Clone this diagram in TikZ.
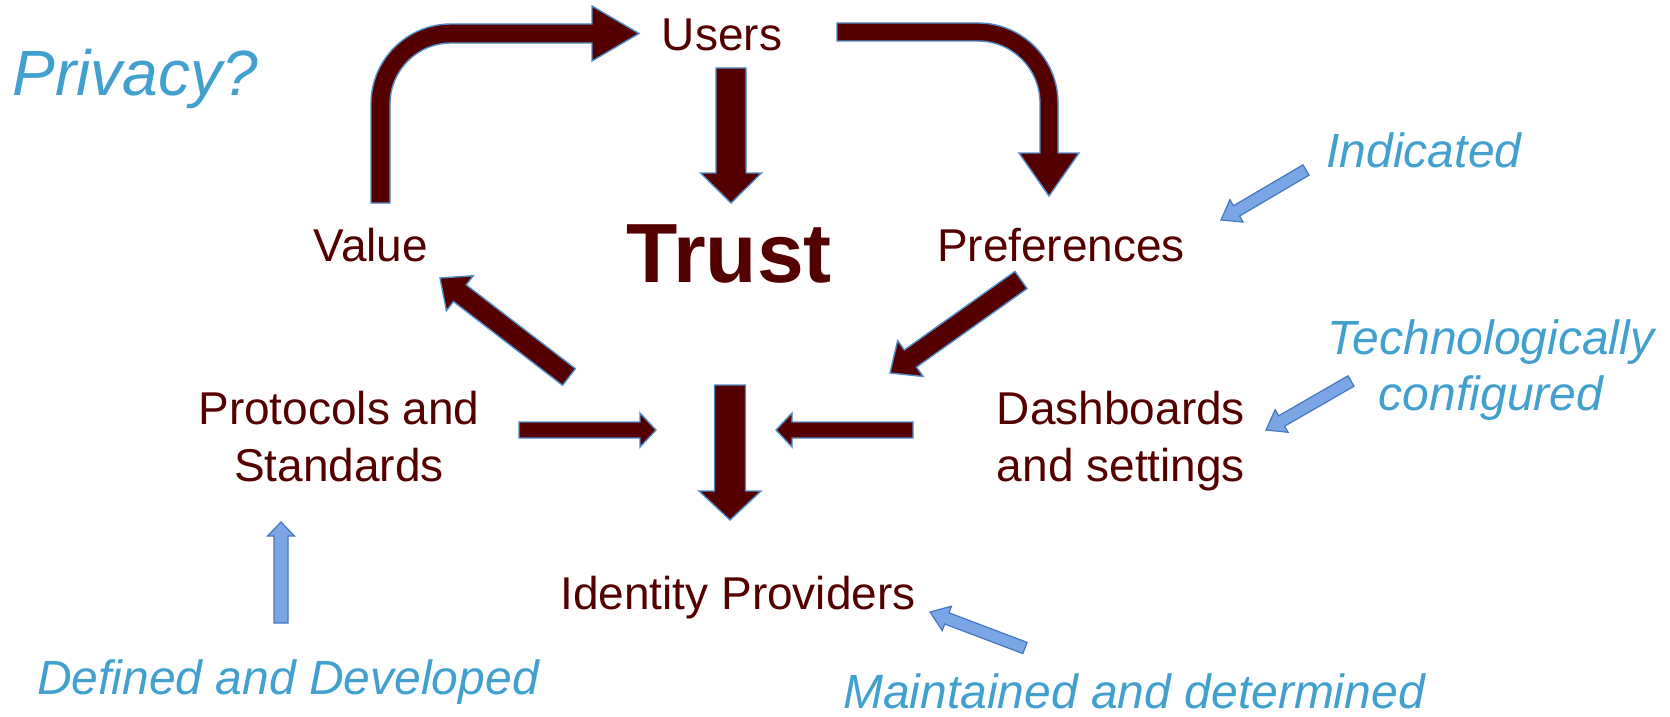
\documentclass[tikz,border=0pt]{standalone}
\usepackage{fontspec}
\setmainfont{Liberation Sans}
\usepackage{xcolor}
\usepackage{tikz}
\usetikzlibrary{calc}

\definecolor{darkred}{RGB}{85,0,0}
\definecolor{rimblue}{RGB}{79,140,200}
\definecolor{noteblue}{RGB}{66,160,206}
\definecolor{paleblue}{RGB}{122,166,230}
\definecolor{edgeblue}{RGB}{70,118,190}

\tikzstyle{term}=[inner sep=0pt,anchor=base,text=darkred,font=\fontsize{23pt}{28.5pt}\selectfont]
\tikzstyle{remark}=[inner sep=0pt,anchor=base,text=noteblue,font=\fontsize{24pt}{28pt}\selectfont\itshape]
\tikzstyle{heavy}=[fill=darkred,draw=rimblue,line width=0.7pt]
\tikzstyle{light}=[fill=paleblue,draw=edgeblue,line width=0.6pt]

\newcommand{\blockarrow}[6]{%
  \path ($(#3)!#6!(#2)$) coordinate (hb);
  \draw[#1] ($(#2)!#4!-90:(#3)$) -- ($(hb)!#4!90:(#2)$) -- ($(hb)!#5!90:(#2)$) -- (#3)
    -- ($(hb)!#5!-90:(#2)$) -- ($(hb)!#4!-90:(#2)$) -- ($(#2)!#4!90:(#3)$) -- cycle;
}

\begin{document}
\begin{tikzpicture}[x=0.5pt,y=-0.5pt]
	\useasboundingbox (0,0) rectangle (1670,717);
	\node[remark,anchor=base west,font=\fontsize{32pt}{36pt}\selectfont\itshape] (privacy) at (12,96) {Privacy?};
	\node[term] (users) at (722,51) {Users};
	\node[term,font=\fontsize{42pt}{48pt}\selectfont\bfseries] (trust) at (729,282) {Trust};
	\node[term] (value) at (371,261) {Value};
	\node[term] (prefs) at (1061,261) {Preferences};
	\node[term,align=center] (protocols) at (339,481) {Protocols and\\Standards};
	\node[term,align=center] (dash) at (1121,481) {Dashboards\\and settings};
	\node[term] (idp) at (738,609) {Identity Providers};
	\node[remark] (indicated) at (1424,168) {Indicated};
	\node[remark,align=center] (techno) at (1491,410) {Technologically\\configured};
	\node[remark] (defined) at (288,694) {Defined and Developed};
	\node[remark] (maintained) at (1134,708) {Maintained and determined};

	\coordinate (ua) at (731,68);   \coordinate (ub) at (731,203);
	\coordinate (da) at (730,385);  \coordinate (db) at (730,520);
	\coordinate (pa) at (569,377);  \coordinate (pb) at (440,278);
	\coordinate (qa) at (1021,280); \coordinate (qb) at (890,373);
	\coordinate (ra) at (519,430);  \coordinate (rb) at (656,430);
	\coordinate (sa) at (913,430);  \coordinate (sb) at (776,430);
	\coordinate (ia) at (1306,170); \coordinate (ib) at (1221,220);
	\coordinate (ka) at (1351,381); \coordinate (kb) at (1266,430);
	\coordinate (fa) at (281,623);  \coordinate (fb) at (281,522);
	\coordinate (ma) at (1025,648); \coordinate (mb) at (930,612);

	\draw[heavy] (390,203) -- (390,104) .. controls (390,70.3) and (417.3,43) .. (451,43)
		-- (592,43) -- (592,61) -- (639,33.5) -- (592,6) -- (592,24) -- (451,24)
		.. controls (406.8,24) and (371,59.8) .. (371,104) -- (371,203) -- cycle;
	\draw[heavy] (837,23) -- (978,23) .. controls (1022.2,23) and (1058,58.8) .. (1058,103)
		-- (1058,153) -- (1079,153) -- (1049,196) -- (1019,153) -- (1040,153) -- (1040,103)
		.. controls (1040,68.8) and (1012.2,41) .. (978,41) -- (837,41) -- cycle;

	\blockarrow{heavy}{ua}{ub}{7.5pt}{15.25pt}{15pt}
	\blockarrow{heavy}{da}{db}{7.75pt}{15.5pt}{14.5pt}
	\blockarrow{heavy}{pa}{pb}{5.25pt}{11pt}{12.5pt}
	\blockarrow{heavy}{qa}{qb}{5.25pt}{11pt}{12.5pt}
	\blockarrow{heavy}{ra}{rb}{4pt}{8.5pt}{8pt}
	\blockarrow{heavy}{sa}{sb}{4pt}{8.5pt}{8pt}

	\blockarrow{light}{ia}{ib}{3pt}{6.5pt}{9pt}
	\blockarrow{light}{ka}{kb}{3pt}{6.5pt}{9pt}
	\blockarrow{light}{fa}{fb}{3.5pt}{6.75pt}{7pt}
	\blockarrow{light}{ma}{mb}{3pt}{6.5pt}{9pt}
\end{tikzpicture}
\end{document}
